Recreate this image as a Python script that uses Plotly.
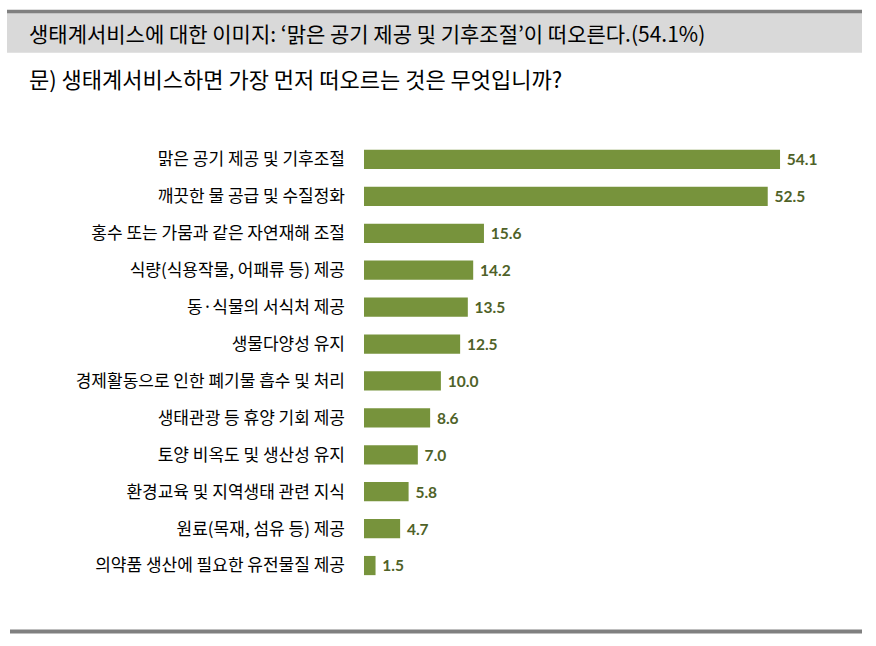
import plotly.graph_objects as go

categories = [
    "맑은 공기 제공 및 기후조절",
    "깨끗한 물 공급 및 수질정화",
    "홍수 또는 가뭄과 같은 자연재해 조절",
    "식량(식용작물, 어패류 등) 제공",
    "동·식물의 서식처 제공",
    "생물다양성 유지",
    "경제활동으로 인한 폐기물 흡수 및 처리",
    "생태관광 등 휴양 기회 제공",
    "토양 비옥도 및 생산성 유지",
    "환경교육 및 지역생태 관련 지식",
    "원료(목재, 섬유 등) 제공",
    "의약품 생산에 필요한 유전물질 제공",
]
values = [54.1, 52.5, 15.6, 14.2, 13.5, 12.5, 10.0, 8.6, 7.0, 5.8, 4.7, 1.5]
title_text = "생태계서비스에 대한 이미지: ‘맑은 공기 제공 및 기후조절’이 떠오른다.(54.1%)"
subtitle_text = "문) 생태계서비스하면 가장 먼저 떠오르는 것은 무엇입니까?"

W, H = 876, 646
L, R = 364, 840
T, B = 140.5, 584.5
px_per_unit = 7.69
xmax = (R - L) / px_per_unit


def px(x):
    return (x - L) / (R - L)


def py(y):
    return (B - y) / (B - T)


fig = go.Figure(
    go.Bar(
        x=values,
        y=categories,
        orientation="h",
        marker=dict(color="#77933c", line=dict(width=0)),
        width=0.52,
        text=[f" {v:.1f}" for v in values],
        textposition="outside",
        textfont=dict(family="Lato, Carlito, sans-serif", size=17, color="#4f6228", weight="bold"),
        cliponaxis=False,
        hoverinfo="skip",
    )
)

fig.update_layout(
    width=W,
    height=H,
    margin=dict(l=L, r=W - R, t=T, b=H - B, pad=0),
    paper_bgcolor="white",
    plot_bgcolor="white",
    showlegend=False,
    bargap=0.48,
    xaxis=dict(range=[0, xmax], visible=False, fixedrange=True),
    yaxis=dict(
        categoryorder="array",
        categoryarray=categories[::-1],
        range=[-0.5, len(categories) - 0.5],
        showgrid=False,
        zeroline=False,
        showline=False,
        ticks="",
        ticklabelstandoff=18,
        tickfont=dict(family="Noto Sans CJK KR", size=17, color="#000000"),
    ),
    font=dict(family="Noto Sans CJK KR"),
    shapes=[
        dict(type="rect", xref="paper", yref="paper",
             x0=px(7), x1=px(862), y0=py(52), y1=py(12),
             fillcolor="#d9d9d9", line=dict(width=0), layer="below"),
        dict(type="rect", xref="paper", yref="paper",
             x0=px(7), x1=px(862), y0=py(12.5), y1=py(9),
             fillcolor="#808080", line=dict(width=0)),
        dict(type="rect", xref="paper", yref="paper",
             x0=px(10), x1=px(862), y0=py(634), y1=py(630),
             fillcolor="#808080", line=dict(width=0)),
    ],
    annotations=[
        dict(text=title_text, xref="paper", yref="paper", x=px(27), y=py(32),
             xanchor="left", yanchor="middle", showarrow=False,
             font=dict(family="Noto Sans CJK KR", size=21, color="#000000")),
        dict(text=subtitle_text, xref="paper", yref="paper", x=px(27), y=py(77),
             xanchor="left", yanchor="middle", showarrow=False,
             font=dict(family="Noto Sans CJK KR", size=22, color="#000000")),
    ],
)

fig.write_html("out.html")
